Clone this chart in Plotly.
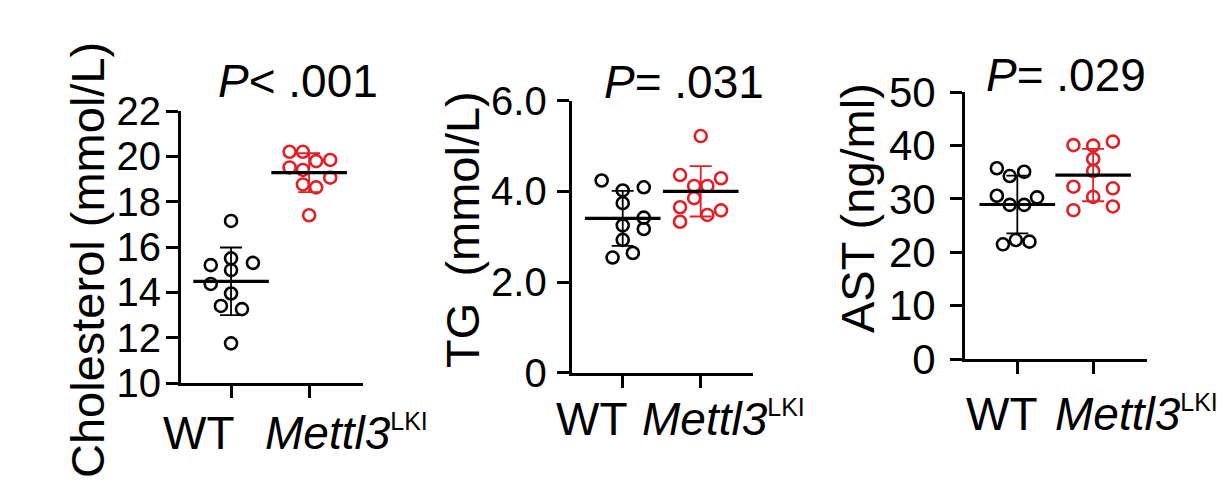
import numpy as np
import plotly.graph_objects as go

# canvas size (px)
W, H = 1229, 485
OFF = 8  # page body margin in the browser

# values (10 mice per group)
groups = ["WT", "Mettl3"]

chol_wt = [17.15, 15.2, 15.5, 15.3, 14.98, 14.37, 13.95, 13.4, 13.26, 11.75]
chol_ko = [20.2, 20.2, 19.79, 19.84, 19.51, 19.4, 19.06, 18.76, 18.63, 17.4]
chol_wt_dx = [0, -0.26, 0, 0.28, 0, -0.26, 0, -0.13, 0.14, 0]
chol_ko_dx = [-0.25, -0.08, 0.09, 0.27, -0.25, -0.08, 0.27, -0.08, 0.09, 0]

tg_wt = [4.24, 4.02, 4.09, 3.74, 3.42, 3.25, 3.17, 2.93, 2.64, 2.54]
tg_ko = [5.22, 4.36, 4.29, 4.12, 4.12, 3.85, 3.65, 3.58, 3.48, 3.33]
tg_wt_dx = [-0.27, 0, 0.27, 0, 0.27, 0, 0.27, 0, 0.13, -0.13]
tg_ko_dx = [0, -0.265, 0.26, -0.085, 0.085, -0.085, -0.265, 0.26, 0.085, -0.265]

ast_wt = [35.76, 34.3, 35.1, 30.6, 30.3, 28.9, 28.9, 21.5, 22.3, 22.0]
ast_ko = [40.1, 40.0, 40.75, 37.5, 35.25, 32.3, 32.0, 30.4, 27.9, 28.6]
ast_wt_dx = [-0.27, -0.1, 0.09, -0.27, 0.26, -0.1, 0.09, -0.19, -0.02, 0.16]
ast_ko_dx = [-0.26, 0, 0.26, 0, 0, -0.26, 0.26, 0, -0.26, 0.26]

chol_ticks = [10, 12, 14, 16, 18, 20, 22]
tg_ticks = [0, 2, 4, 6]
tg_ticktext = ["0", "2.0", "4.0", "6.0"]
ast_ticks = [0, 10, 20, 30, 40, 50]

p_labels = ["<i>P</i>< .001", "<i>P</i>= .031", "<i>P</i>= .029"]
y_titles = ["Cholesterol (mmol/L)", "TG\u00a0\u00a0(mmol/L)", "AST (ng/ml)"]

FONT = "Liberation Sans, Arial, sans-serif"
RED = "#e21f26"


def px(x):
    return (x - OFF) / W


def py(y):
    return 1 - (y - OFF) / H


# layout of each panel in pixels
panels = [
    dict(wt=chol_wt, ko=chol_ko, wt_dx=chol_wt_dx, ko_dx=chol_ko_dx,
         xdom=(181, 363), ydom=(383, 111), xr=[0.359, 2.69], yr=[10, 22],
         ticks=chol_ticks, ticktext=[str(t) for t in chol_ticks], tfs=40, stand=-3,
         title_xy=(298, 81), ytitle_xy=(87, 260),
         wt_shift=6, ko_shift=-46, lab_y=433),
    dict(wt=tg_wt, ko=tg_ko, wt_dx=tg_wt_dx, ko_dx=tg_ko_dx,
         xdom=(571.7, 753), ydom=(372.7, 100.7), xr=[0.346, 2.67], yr=[0, 6],
         ticks=tg_ticks, ticktext=tg_ticktext, tfs=40, stand=2,
         title_xy=(684, 82), ytitle_xy=(463, 230),
         wt_shift=7, ko_shift=-61, lab_y=419),
    dict(wt=ast_wt, ko=ast_ko, wt_dx=ast_wt_dx, ko_dx=ast_ko_dx,
         xdom=(965, 1147), ydom=(359, 92.3), xr=[0.31, 2.71], yr=[0, 50],
         ticks=ast_ticks, ticktext=[str(t) for t in ast_ticks], tfs=42, stand=6,
         title_xy=(1066, 75), ytitle_xy=(857, 208),
         wt_shift=23, ko_shift=-40, lab_y=414),
]

fig = go.Figure()
annotations = []

for i, p in enumerate(panels, start=1):
    sfx = "" if i == 1 else str(i)
    xa, ya = "x" + sfx, "y" + sfx

    # individual points
    for vals, dx, pos, col in [(p["wt"], p["wt_dx"], 1, "black"), (p["ko"], p["ko_dx"], 2, RED)]:
        fig.add_trace(go.Scatter(
            x=[pos + d for d in dx], y=vals, xaxis=xa, yaxis=ya,
            mode="markers", showlegend=False,
            marker=dict(symbol="circle-open", size=12, color=col, line=dict(width=2.6, color=col))
        ))

    # mean line + SD bar
    for vals, pos, col in [(p["wt"], 1, "black"), (p["ko"], 2, RED)]:
        fig.add_trace(go.Scatter(
            x=[pos], y=[np.mean(vals)], xaxis=xa, yaxis=ya,
            mode="markers", showlegend=False,
            marker=dict(symbol="line-ew", size=54, line=dict(width=3.2, color="black")),
            error_y=dict(type="data", array=[np.std(vals, ddof=1)], color=col, thickness=1.8, width=11)
        ))

    fig.update_layout(**{
        "xaxis" + sfx: dict(
            domain=[px(p["xdom"][0]), px(p["xdom"][1])], range=p["xr"], anchor=ya,
            showline=True, linewidth=3, linecolor="black", showgrid=False, zeroline=False,
            ticks="outside", ticklen=12, tickwidth=3, tickcolor="black",
            tickvals=[1, 2], showticklabels=False, fixedrange=True, automargin=False
        ),
        "yaxis" + sfx: dict(
            domain=[py(p["ydom"][0]), py(p["ydom"][1])], range=p["yr"], anchor=xa,
            showline=True, linewidth=3, linecolor="black", showgrid=False, zeroline=False,
            ticks="outside", ticklen=12, tickwidth=3, tickcolor="black",
            tickvals=p["ticks"], ticktext=p["ticktext"], ticklabelstandoff=p["stand"],
            tickfont=dict(family=FONT, size=p["tfs"], color="black"), fixedrange=True,
            automargin=False
        ),
    })

    # P value title
    annotations.append(dict(
        text=p_labels[i - 1], xref="paper", yref="paper",
        x=px(p["title_xy"][0]), y=py(p["title_xy"][1]), xanchor="center", yanchor="middle",
        showarrow=False, font=dict(family=FONT, size=46, color="black")
    ))
    # y axis title
    annotations.append(dict(
        text=y_titles[i - 1], xref="paper", yref="paper", textangle=-90,
        x=px(p["ytitle_xy"][0]), y=py(p["ytitle_xy"][1]), xanchor="center", yanchor="middle",
        showarrow=False, font=dict(family=FONT, size=47, color="black")
    ))
    # group labels
    annotations.append(dict(
        text=groups[0], xref=xa, yref="paper", x=1, xshift=p["wt_shift"],
        y=py(p["lab_y"]), xanchor="right", yanchor="middle",
        showarrow=False, font=dict(family=FONT, size=46, color="black")
    ))
    annotations.append(dict(
        text="<i>" + groups[1] + "</i><sup><span style='font-size:25px'>LKI</span></sup>",
        xref=xa, yref="paper", x=2, xshift=p["ko_shift"],
        y=py(p["lab_y"]), xanchor="left", yanchor="middle",
        showarrow=False, font=dict(family=FONT, size=46, color="black")
    ))

fig.update_layout(
    width=W, height=H,
    margin=dict(l=0, r=0, t=0, b=0, autoexpand=False),
    paper_bgcolor="white", plot_bgcolor="white",
    annotations=annotations,
    showlegend=False
)

fig.write_html("out.html")
